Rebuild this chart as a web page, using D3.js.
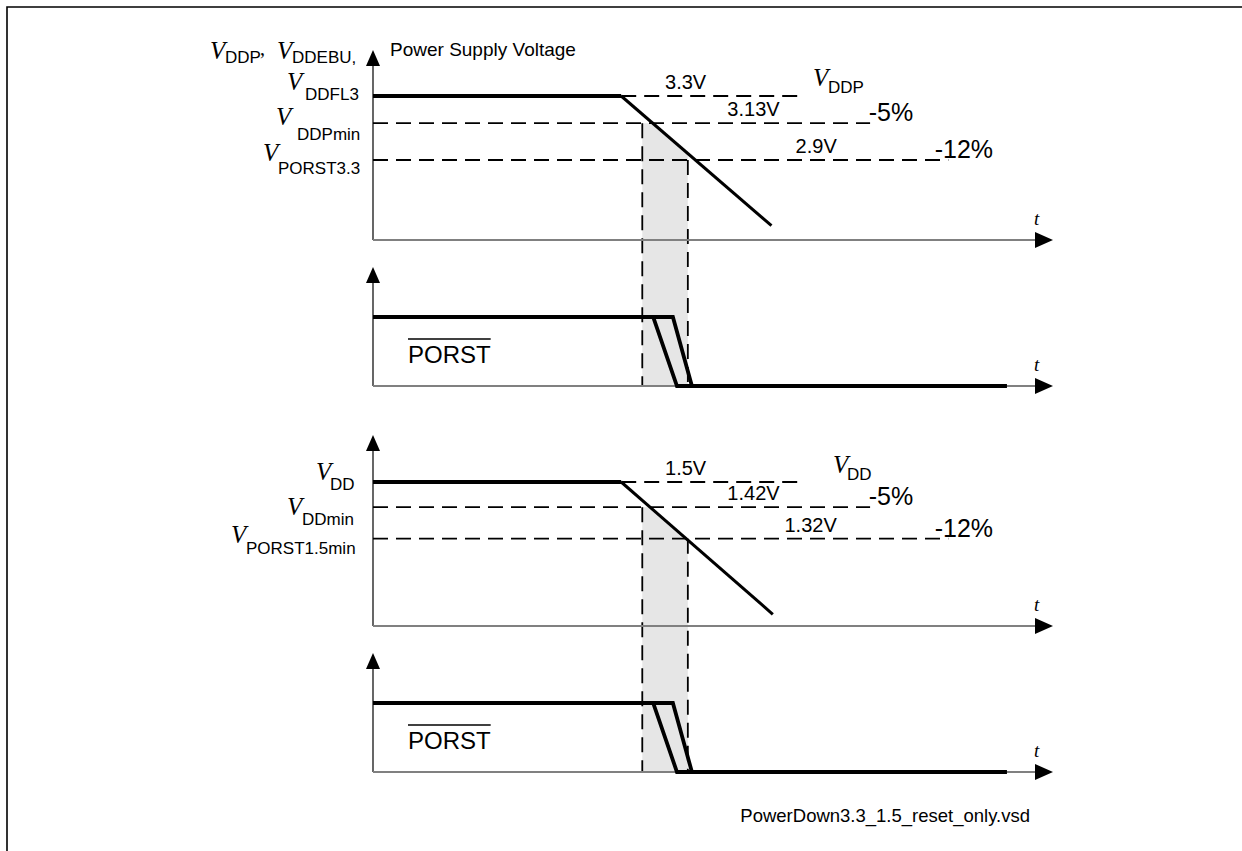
<!DOCTYPE html>
<html>
<head>
<meta charset="utf-8">
<script src="https://cdn.jsdelivr.net/npm/d3@7"></script>
<style>
  html, body { margin: 0; padding: 0; background: #fff; }
  text { font-family: Arial, "Liberation Sans", sans-serif; fill: #000; }
  .v { font-family: "Times New Roman", "Liberation Serif", serif; font-style: italic; }
</style>
</head>
<body>
<svg id="chart" width="1242" height="851"></svg>
<script>
// time is in arbitrary units, 0 = y axis, 100 = arrow tip of the t axis
var vddpWave = [[0, 3.3], [36.5, 3.3], [58.6, 2.49]];
var vddWave = [[0, 1.5], [36.5, 1.5], [58.8, 1.08]];
var vddpLevels = [3.3, 3.13, 2.9];
var vddLevels = [1.5, 1.42, 1.32];
var vddpLabels = ["3.3V", "3.13V", "2.9V"];
var vddLabels = ["1.5V", "1.42V", "1.32V"];
var tolerances = ["", "-5%", "-12%"];
var tMin = 39.6;     // supply reaches the -5% level
var tPorst = 46.3;   // supply reaches the reset threshold
var porstEarly = [[0, 1], [41.2, 1], [44.7, 0], [93.2, 0]];
var porstLate = [[0, 1], [44.1, 1], [46.9, 0], [93.2, 0]];

var svg = d3.select("#chart");

var x = d3.scaleLinear().domain([0, 100]).range([373, 1053]);

// dashed level line ends and label anchors, in time units
var dashEnd = [63.2, 73.1, 84.6];
var labelEnd = [49, 59.8, 68.2];
var tolStart = [0, 72.9, 82.6];

var panels = [
    { kind: "v", axisY: 240, tipY: 50, wave: vddpWave, levels: vddpLevels, labels: vddpLabels,
      y: d3.scaleLinear().domain([2.9, 3.3]).range([160, 96]) },
    { kind: "p", axisY: 386, tipY: 267, y: d3.scaleLinear().domain([0, 1]).range([386, 317]) },
    { kind: "v", axisY: 626, tipY: 435, wave: vddWave, levels: vddLevels, labels: vddLabels,
      y: d3.scaleLinear().domain([1.32, 1.5]).range([538.7, 482]) },
    { kind: "p", axisY: 772, tipY: 653, y: d3.scaleLinear().domain([0, 1]).range([772, 703]) }
];

// frame
svg.append("path").attr("d", "M7,851V7H1242").attr("fill", "none").attr("stroke", "#000").attr("stroke-width", 1.6);

var dash = "15,8";

function drawShade(p, porst) {
    var slope = d3.scaleLinear().domain([p.wave[1][0], p.wave[2][0]]).range([p.wave[1][1], p.wave[2][1]]);
    var tCross = slope.invert(p.levels[1]);
    // shaded window between -5% and reset threshold
    svg.append("path")
        .datum([tMin, tCross, tPorst])
        .attr("d", d3.area()
            .x(function(t) { return x(t); })
            .y0(porst.axisY)
            .y1(function(t) { return p.y(Math.min(slope(t), p.levels[1])); }))
        .attr("fill", "#e6e6e6");
}

function drawVoltage(p, porst) {
    var g = svg.append("g");

    // horizontal dashed levels
    g.selectAll(".lvl").data(p.levels).enter()
        .append("line")
            .attr("x1", function(d, i) { return i == 0 ? x(p.wave[1][0]) : x(0); })
            .attr("x2", function(d, i) { return x(dashEnd[i]); })
            .attr("y1", function(d) { return p.y(d); })
            .attr("y2", function(d) { return p.y(d); })
            .attr("stroke", "#000").attr("stroke-width", 1.8)
            .attr("stroke-dasharray", dash);

    // vertical dashed markers
    g.selectAll(".vm").data([[tMin, p.levels[1]], [tPorst, p.levels[2]]]).enter()
        .append("line")
            .attr("x1", function(d) { return x(d[0]); })
            .attr("x2", function(d) { return x(d[0]); })
            .attr("y1", function(d) { return p.y(d[1]); })
            .attr("y2", porst.axisY)
            .attr("stroke", "#000").attr("stroke-width", 1.8)
            .attr("stroke-dasharray", dash);

    g.selectAll(".vl").data(p.labels).enter()
        .append("text")
            .attr("x", function(d, i) { return x(labelEnd[i]); })
            .attr("y", function(d, i) { return p.y(p.levels[i]) - 7; })
            .attr("text-anchor", "end")
            .attr("font-size", "20px")
            .text(function(d) { return d; });

    g.selectAll(".tol").data(tolerances).enter()
        .append("text")
            .attr("x", function(d, i) { return x(tolStart[i]); })
            .attr("y", function(d, i) { return p.y(p.levels[i]) - 2; })
            .attr("font-size", "25px")
            .text(function(d) { return d; });
}

function drawWave(p) {
    var ln = d3.line().x(function(d) { return x(d[0]); }).y(function(d) { return p.y(d[1]); });
    svg.append("path").attr("d", ln(p.wave.slice(0, 2)))
        .attr("stroke", "#000").attr("stroke-width", 4).attr("fill", "none");
    svg.append("path").attr("d", ln(p.wave.slice(1)))
        .attr("stroke", "#000").attr("stroke-width", 3).attr("fill", "none");
}

function drawPorst(p) {
    var g = svg.append("g");
    var ln = d3.line().x(function(d) { return x(d[0]); }).y(function(d) { return p.y(d[1]); });
    [porstEarly, porstLate].forEach(function(w) {
        g.append("path").attr("d", ln(w))
            .attr("stroke", "#000").attr("stroke-width", 3.8).attr("fill", "none")
            .attr("stroke-linejoin", "miter");
    });
    var base = p.axisY - 23;
    var txt = g.append("text").attr("x", 408).attr("y", base).attr("font-size", "24px").text("PORST");
    var w = txt.node().getComputedTextLength();
    g.append("line").attr("x1", 408).attr("x2", 408 + w)
        .attr("y1", base - 24).attr("y2", base - 24)
        .attr("stroke", "#000").attr("stroke-width", 1.4);
}

function drawAxes(p) {
    var g = svg.append("g");
    g.append("line").attr("x1", x(0)).attr("x2", x(0)).attr("y1", p.tipY + 8).attr("y2", p.axisY)
        .attr("stroke", "#000").attr("stroke-width", 1.2);
    g.append("line").attr("x1", x(0)).attr("x2", x(100) - 10).attr("y1", p.axisY).attr("y2", p.axisY)
        .attr("stroke", "#808080").attr("stroke-width", 1.8);
    g.append("path")
        .attr("d", "M" + x(0) + "," + p.tipY + "l7,16h-14z").attr("fill", "#000");
    g.append("path")
        .attr("d", "M" + x(100) + "," + p.axisY + "l-18,-8v16z").attr("fill", "#000");
    g.append("text").attr("class", "v").attr("x", x(100) - 19).attr("y", p.axisY - 15)
        .attr("font-size", "19px").text("t");
}

drawShade(panels[0], panels[1]);
drawShade(panels[2], panels[3]);
drawVoltage(panels[0], panels[1]);
drawVoltage(panels[2], panels[3]);
panels.forEach(drawAxes);
drawWave(panels[0]);
drawWave(panels[2]);
drawPorst(panels[1]);
drawPorst(panels[3]);

// symbol labels: V in serif italic with sans subscript
var symbols = [
    { vx: 210, vy: 59, sub: "DDP", sx: 225, sy: 63 },
    { vx: 277, vy: 59, sub: "DDEBU,", sx: 292, sy: 63 },
    { vx: 287, vy: 90, sub: "DDFL3", sx: 305, sy: 100 },
    { vx: 276, vy: 125, sub: "DDPmin", sx: 297, sy: 140 },
    { vx: 263, vy: 161, sub: "PORST3.3", sx: 278, sy: 174 },
    { vx: 316, vy: 480, sub: "DD", sx: 330, sy: 490 },
    { vx: 287, vy: 515, sub: "DDmin", sx: 302, sy: 525 },
    { vx: 231, vy: 543, sub: "PORST1.5min", sx: 246, sy: 554 },
    { vx: 813, vy: 86, sub: "DDP", sx: 828, sy: 93 },
    { vx: 833, vy: 473, sub: "DD", sx: 847, sy: 480 }
];
symbols.forEach(function(s) {
    svg.append("text").attr("class", "v").attr("x", s.vx).attr("y", s.vy).attr("font-size", "25px").text("V");
    svg.append("text").attr("x", s.sx).attr("y", s.sy).attr("font-size", "17px").text(s.sub);
});
svg.append("text").attr("x", 260).attr("y", 55).attr("font-size", "20px")
    .style("font-family", "'Liberation Serif', serif").text(",");

svg.append("text").attr("x", 390).attr("y", 56).attr("font-size", "19px").text("Power Supply Voltage");
svg.append("text").attr("x", 1030).attr("y", 822).attr("text-anchor", "end").attr("font-size", "18.5px")
    .text("PowerDown3.3_1.5_reset_only.vsd");
</script>
</body>
</html>
